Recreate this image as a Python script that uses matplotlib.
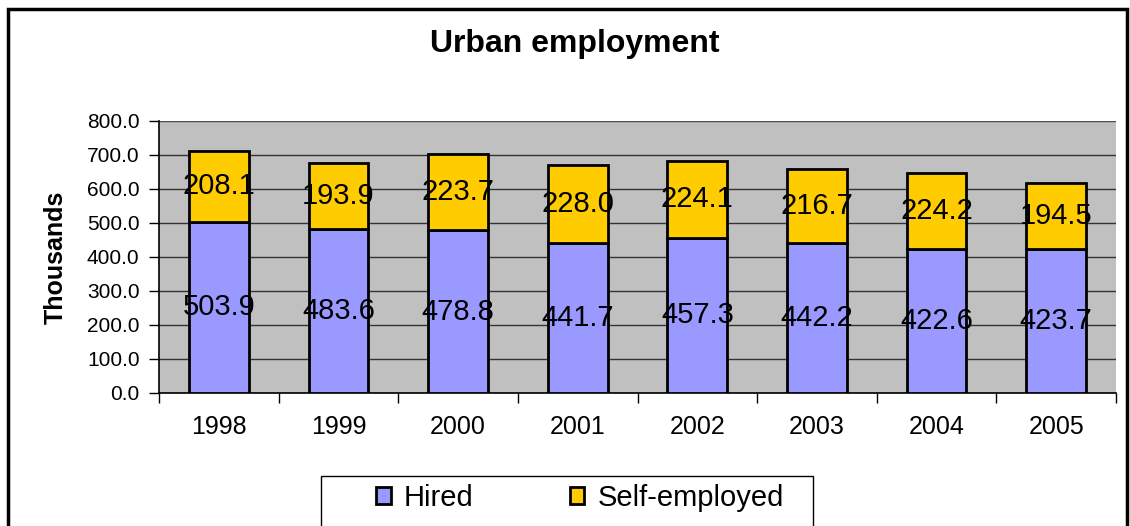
import matplotlib
matplotlib.use("Agg")
import matplotlib.pyplot as plt
from matplotlib.patches import Rectangle
import numpy as np

plt.rcParams['font.family'] = ['Liberation Sans', 'DejaVu Sans']

years = ["1998", "1999", "2000", "2001", "2002", "2003", "2004", "2005"]
hired = [503.9, 483.6, 478.8, 441.7, 457.3, 442.2, 422.6, 423.7]
self_employed = [208.1, 193.9, 223.7, 228.0, 224.1, 216.7, 224.2, 194.5]

fig = plt.figure(figsize=(11.3, 5.26), dpi=100)
W, H = 1130, 526

# outer chart frame (bottom edge cut off in the original)
fig.patches.append(Rectangle((8 / W, -0.05), (1127 - 8) / W, 1.05 - 9 / H,
                             transform=fig.transFigure, fill=False,
                             edgecolor="black", linewidth=2.5))
# legend frame, also cut off at the bottom
fig.patches.append(Rectangle((321 / W, -0.05), (813 - 321) / W,
                             0.05 + 1 - 476 / H, transform=fig.transFigure,
                             fill=False, edgecolor="black", linewidth=1))

ax = fig.add_axes([159 / W, 1 - 393 / H, (1116 - 159) / W, (393 - 121) / H])
ax.set_facecolor("#C0C0C0")

x = np.arange(len(years))
ax.bar(x, hired, width=0.5, color="#9999FF", edgecolor="black", linewidth=2,
       label="Hired", zorder=3)
ax.bar(x, self_employed, width=0.5, bottom=hired, color="#FFCC00",
       edgecolor="black", linewidth=2, label="Self-employed", zorder=3)

for i in range(len(years)):
    ax.text(x[i], hired[i] / 2, f"{hired[i]:.1f}", ha="center", va="center",
            fontsize=21, zorder=4)
    ax.text(x[i], hired[i] + self_employed[i] / 2, f"{self_employed[i]:.1f}",
            ha="center", va="center", fontsize=21, zorder=4)

ax.set_xlim(-0.5, len(years) - 0.5)
ax.set_ylim(0, 800)
ax.set_yticks(np.arange(0, 801, 100))
ax.set_yticklabels([f"{v:.1f}" for v in np.arange(0, 801, 100)], fontsize=15)
ax.yaxis.grid(True, color="#333333", linewidth=1, zorder=0)
ax.set_axisbelow(True)

ax.set_xticks(x)
ax.set_xticklabels(years, fontsize=18)
ax.tick_params(axis="x", length=0, pad=16)
ax.set_xticks(np.arange(-0.5, len(years)), minor=True)
ax.tick_params(axis="x", which="minor", length=7, width=1, direction="out")
ax.tick_params(axis="y", length=7, width=1, direction="out", pad=7)

for s in ["top", "right"]:
    ax.spines[s].set_visible(False)
ax.spines["left"].set_linewidth(1.2)
ax.spines["bottom"].set_linewidth(1.2)
ax.axhline(800, color="#555555", linewidth=1.2, zorder=1)

ax.set_ylabel("Thousands", fontsize=18, fontweight="bold", labelpad=14)
fig.text(575 / W, 1 - 44 / H, "Urban employment", ha="center", va="center",
         fontsize=23, fontweight="bold")

leg = fig.legend(loc="center left", bbox_to_anchor=(376 / W, 1 - 498 / H),
                 ncol=2, fontsize=21, frameon=False,
                 handlelength=0.5, handleheight=0.5,
                 columnspacing=3.3, borderpad=0, borderaxespad=0,
                 handletextpad=0.45)

fig.savefig("out.png", dpi=100)
